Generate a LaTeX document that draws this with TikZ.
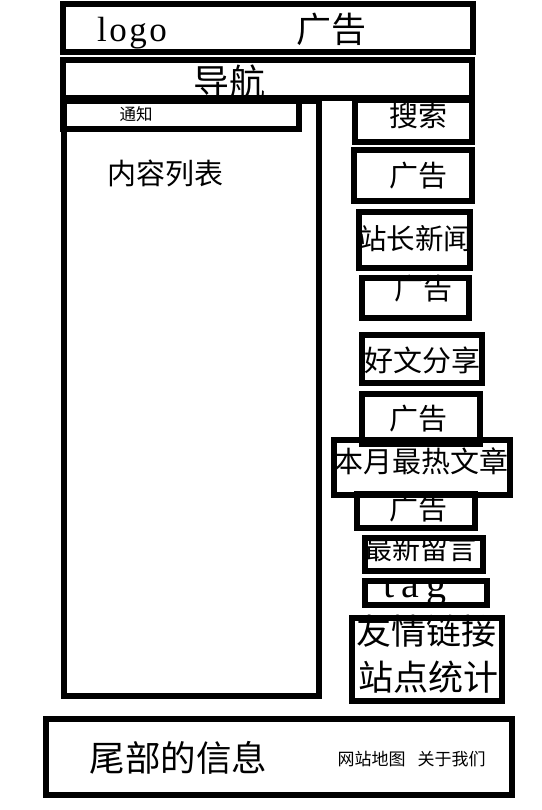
\documentclass[tikz,border=0pt]{standalone}
\usepackage{fontspec}
\setmainfont{Liberation Serif}
\newfontfamily\cjk{Noto Sans CJK SC}
\begin{document}
\begin{tikzpicture}[x=1pt,y=-1pt,
  box/.style={draw=black, line width=6pt, inner sep=0pt, outer sep=0pt, rectangle},
  cj/.style={inner sep=0pt, outer sep=0pt, font=\cjk\fontsize{#1}{#1}\selectfont},
  lt/.style={inner sep=0pt, outer sep=0pt, anchor=base, font=\fontsize{#1}{#1}\selectfont}]
\useasboundingbox (0,0) rectangle (541,810);
\fill[white] (0,0) rectangle (541,810);
% boxes
\node[box, minimum width=410pt,   minimum height=48pt]   (top)     at (268,28) {};
\node[box, minimum width=409.5pt, minimum height=38pt]   (nav)     at (267.25,79) {};
\node[box, minimum width=255pt,   minimum height=595pt]  (content) at (191.5,398.5) {};
\node[box, minimum width=236.5pt, minimum height=28pt]   (notice)  at (180.75,115) {};
\node[box, minimum width=117.5pt, minimum height=42pt]   (search)  at (413.25,121) {};
\node[box, minimum width=118.3pt, minimum height=50.7pt] (adA)     at (412.85,175.65) {};
\node[box, minimum width=111.3pt, minimum height=55.7pt] (news)    at (414.65,240.15) {};
\node[box, minimum width=107.3pt, minimum height=40pt]   (adB)     at (415.65,298) {};
\node[box, minimum width=120pt,   minimum height=48.3pt] (share)   at (422,358.85) {};
\node[box, minimum width=176.3pt, minimum height=55.6pt] (hot)     at (422.15,467.5) {};
\node[box, minimum width=118pt,   minimum height=49.5pt] (adC)     at (421.3,418.75) {};
\node[box, minimum width=117.4pt, minimum height=33.7pt] (adD)     at (416,510.85) {};
\node[box, minimum width=118pt,   minimum height=33.3pt] (msg)     at (423.7,554.65) {};
\node[box, minimum width=122.3pt, minimum height=23.4pt] (tagbox)  at (425.85,593) {};
\node[box, minimum width=149.7pt, minimum height=83pt]   (links)   at (427.15,659.5) {};
\node[box, minimum width=466.3pt, minimum height=76pt]   (footer)  at (278.85,757) {};
% texts
\node[lt=35pt] (tlogo) at (132,41.7) {l\kern2.5pt o\kern2.5pt g\kern2.5pt o};
\node[cj=35pt] (tadtop) at (331.75,29.5) {广告};
\node[cj=36pt] (tnav) at (229.5,82) {导航};
\node[cj=16.5pt] (tnotice) at (136,114.5) {通知};
\node[cj=29pt] (tcontent) at (165.5,173.3) {内容列表};
\node[cj=29pt] (tsearch) at (418,115.5) {搜索};
\node[cj=29pt] (tadA) at (418,175.3) {广告};
\node[cj=28.5pt] (tnews) at (415,238.3) {站长新闻};
\node[cj=29pt] (tadB) at (423,289) {广告};
\node[cj=29pt] (tshare) at (422.5,360) {好文分享};
\node[cj=29pt] (tadC) at (418,419) {广告};
\node[cj=29pt] (thot) at (421.3,461.3) {本月最热文章};
\node[cj=29pt] (tadD) at (418,509) {广告};
\node[cj=28pt] (tmsg) at (420.8,549) {最新留言};
\begin{scope}
  \clip ([shift={(-3,-3)}]tagbox.north west) rectangle ([shift={(3,3)}]tagbox.south east);
  \node[lt=40pt] (ttag) at (415,597) {t\kern7pt a\kern7pt g};
\end{scope}
\node[cj=35pt] (tlinks) at (426.7,631) {友情链接};
\node[cj=35pt] (tstat) at (428.3,677.5) {站点统计};
\node[cj=35.5pt] (tfoot) at (178.5,757.7) {尾部的信息};
\node[cj=17pt] (tmap) at (411.7,759) {网站地图\hspace{12pt}关于我们};
\end{tikzpicture}
\end{document}
